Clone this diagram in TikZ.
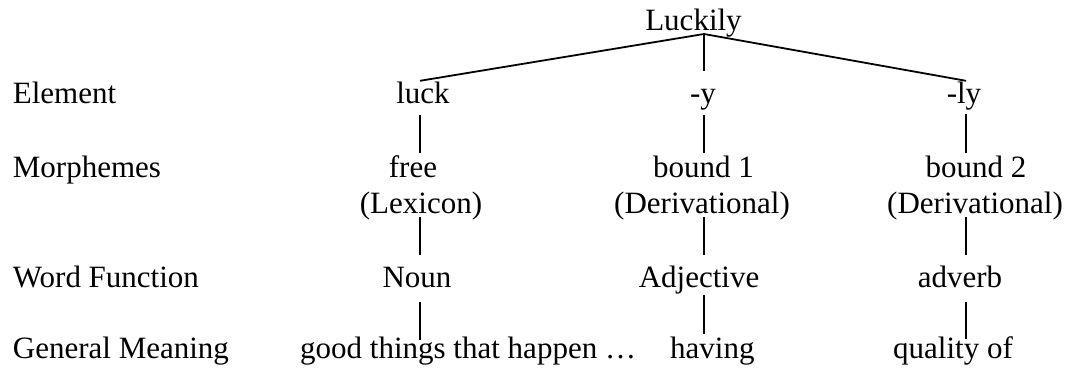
\documentclass[tikz,border=0pt]{standalone}
\usepackage{fontspec}
\setmainfont{Liberation Serif}
\begin{document}
\begin{tikzpicture}[x=1bp,y=-1bp,
  txt/.style={inner sep=0pt, text height=22bp, text depth=7bp, anchor=base,
    font=\fontsize{31bp}{36bp}\selectfont},
  lbl/.style={txt, anchor=base west},
  conn/.style={draw=black, line width=1.8bp}]
\useasboundingbox (0,0) rectangle (1073,371);
% column axes
\coordinate (c1) at (420,0);
\coordinate (c2) at (704,0);
\coordinate (c3) at (966,0);
\coordinate (apex) at (704,34);
% row labels
\node[lbl] (lElement) at (12.7,103) {Element};
\node[lbl] (lMorph) at (12.7,177) {Morphemes};
\node[lbl] (lFunc) at (12.7,287) {Word Function};
\node[lbl] (lMean) at (12.7,358) {General Meaning};
% top
\node[txt] (luckily) at (693.5,30) {Luckily};
% elements
\node[txt] (luck) at (423,103) {luck};
\node[txt] (y) at (703,103) {-y};
\node[txt] (ly) at (964,103) {-ly};
% morphemes
\node[txt] (free) at (413,177) {free};
\node[txt] (bound1) at (703.5,177) {bound 1};
\node[txt] (bound2) at (976,177) {bound 2};
\node[txt] (lex) at (421,213) {(Lexicon)};
\node[txt] (der1) at (702,213) {(Derivational)};
\node[txt] (der2) at (975,213) {(Derivational)};
% functions
\node[txt] (noun) at (417,287) {Noun};
\node[txt] (adj) at (699,287) {Adjective};
\node[txt] (adv) at (960,287) {adverb};
% meanings
\node[txt, anchor=base west] (good) at (300,358) {good things that happen …};
\node[txt, anchor=base west] (having) at (670,358) {having};
\node[txt] (quality) at (953,358) {quality of};
% tree top
\draw[conn] (apex) -- (luck.north -| c1);
\draw[conn] (apex) -- (ly.north -| c3);
\draw[conn, shorten >=10bp] (apex) -- (y.north -| c2);
% column 1
\draw[conn, shorten <=5bp, shorten >=2bp] (luck.south -| c1) -- (free.north -| c1);
\draw[conn, shorten <=-3bp, shorten >=10bp] (lex.south -| c1) -- (noun.north -| c1);
\draw[conn, shorten <=8bp, shorten >=-4bp] (noun.south -| c1) -- (good.north -| c1);
% column 2
\draw[conn, shorten <=5bp, shorten >=2bp] (y.south -| c2) -- (bound1.north -| c2);
\draw[conn, shorten <=-3bp, shorten >=10bp] (der1.south -| c2) -- (adj.north -| c2);
\draw[conn, shorten <=1bp, shorten >=2bp] (adj.south -| c2) -- (having.north -| c2);
% column 3
\draw[conn, shorten <=4bp, shorten >=2bp] (ly.south -| c3) -- (bound2.north -| c3);
\draw[conn, shorten <=-3bp, shorten >=10bp] (der2.south -| c3) -- (adv.north -| c3);
\draw[conn, shorten <=8bp, shorten >=-3bp] (adv.south -| c3) -- (quality.north -| c3);
\end{tikzpicture}
\end{document}
